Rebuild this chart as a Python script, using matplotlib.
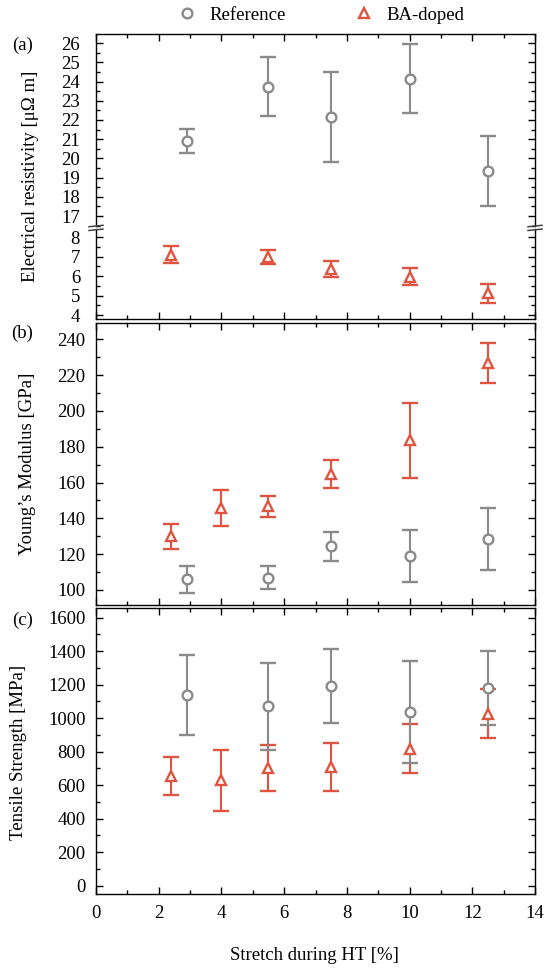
import matplotlib
matplotlib.use("Agg")
import matplotlib.pyplot as plt
from matplotlib.lines import Line2D
from matplotlib.ticker import MultipleLocator

plt.rcParams['font.family'] = ['Liberation Serif', 'DejaVu Serif']

# Data
x_ref = [2.9, 5.5, 7.5, 10.0, 12.5]
x_ba_a = [2.4, 5.5, 7.5, 10.0, 12.5]
x_ba = [2.4, 4.0, 5.5, 7.5, 10.0, 12.5]

# (a) electrical resistivity [uOhm m]: value, lower, upper
res_ref = [20.9, 23.73, 22.15, 24.15, 19.33]
res_ref_lo = [20.29, 22.18, 19.82, 22.35, 17.51]
res_ref_hi = [21.51, 25.28, 24.49, 25.95, 21.16]
res_ba = [7.11, 6.97, 6.37, 5.98, 5.12]
res_ba_lo = [6.69, 6.60, 5.95, 5.52, 4.64]
res_ba_hi = [7.53, 7.34, 6.79, 6.43, 5.59]

# (b) Young's modulus [GPa]
ym_ref = [106.0, 106.9, 124.3, 119.2, 128.4]
ym_ref_lo = [98.5, 100.5, 116.2, 104.7, 111.2]
ym_ref_hi = [113.6, 113.2, 132.5, 133.6, 145.6]
ym_ba = [129.9, 145.7, 146.7, 164.8, 183.6, 226.7]
ym_ba_lo = [122.9, 135.7, 140.8, 156.8, 162.7, 215.6]
ym_ba_hi = [136.9, 155.7, 152.7, 172.8, 204.6, 237.8]

# (c) tensile strength [MPa]
ts_ref = [1138, 1070, 1192, 1037, 1180]
ts_ref_lo = [898, 811, 970, 733, 960]
ts_ref_hi = [1379, 1330, 1413, 1342, 1399]
ts_ba = [655, 628, 703, 708, 819, 1028]
ts_ba_lo = [541, 445, 565, 568, 674, 879]
ts_ba_hi = [769, 811, 841, 849, 964, 1177]

GRAY = '#8a8a8a'
RED = '#e0543f'
W, H = 550, 971
FS = 13.5


def yerr(val, lo, hi):
    return [[v - l for v, l in zip(val, lo)], [h - v for v, h in zip(val, hi)]]


def draw(ax, x, val, lo, hi, color, marker, ms):
    ax.errorbar(x, val, yerr=yerr(val, lo, hi), fmt=marker, color=color,
                mfc='white', mec=color, ms=ms, mew=1.7, elinewidth=1.5,
                capsize=5.7, capthick=1.5, zorder=3)


def style(ax, ymaj, ymin, ypad, xlabels=False):
    ax.set_xlim(0, 14)
    ax.xaxis.set_major_locator(MultipleLocator(2))
    ax.xaxis.set_minor_locator(MultipleLocator(1))
    ax.yaxis.set_major_locator(MultipleLocator(ymaj))
    ax.yaxis.set_minor_locator(MultipleLocator(ymin))
    ax.tick_params(which='both', direction='in', top=True, right=True,
                   width=1.0, labelsize=FS)
    ax.tick_params(axis='y', pad=ypad)
    ax.tick_params(axis='x', pad=8)
    ax.tick_params(which='major', length=5.3)
    ax.tick_params(which='minor', length=2.8)
    if not xlabels:
        ax.tick_params(axis='x', labelbottom=False)
    for s in ax.spines.values():
        s.set_linewidth(1.0)


def fy(py):
    return 1 - py / H


fig = plt.figure(figsize=(5.5, 9.71), dpi=100)
x0, x1 = 96, 535
left, width = x0 / W, (x1 - x0) / W

# (a) broken axis
ax_up = fig.add_axes([left, fy(226), width, fy(33.7) - fy(226)])
ax_lo = fig.add_axes([left, fy(319.5), width, fy(229.5) - fy(319.5)])
draw(ax_up, x_ref, res_ref, res_ref_lo, res_ref_hi, GRAY, 'o', 7)
draw(ax_lo, x_ba_a, res_ba, res_ba_lo, res_ba_hi, RED, '^', 7.5)
ax_up.set_ylim(16.48, 26.49)
ax_lo.set_ylim(3.77, 8.4)
style(ax_up, 1, 0.5, 11.5)
style(ax_lo, 1, 0.5, 11.5)
ax_up.spines['bottom'].set_visible(False)
ax_lo.spines['top'].set_visible(False)
ax_up.tick_params(axis='x', which='both', bottom=False)
ax_lo.tick_params(axis='x', which='both', top=False)

# break marks
for px in (x0, x1):
    for py in (226.0, 229.8):
        fig.add_artist(Line2D([(px - 7) / W, (px + 7) / W],
                              [fy(py + 0.7), fy(py - 0.7)],
                              color='#444444', lw=1.1))

# (b)
ax_b = fig.add_axes([left, fy(605), width, fy(322.6) - fy(605)])
draw(ax_b, x_ba, ym_ba, ym_ba_lo, ym_ba_hi, RED, '^', 7.5)
draw(ax_b, x_ref, ym_ref, ym_ref_lo, ym_ref_hi, GRAY, 'o', 7)
ax_b.set_ylim(91.6, 249.3)
style(ax_b, 20, 10, 7.5)

# (c)
ax_c = fig.add_axes([left, fy(894), width, fy(608.2) - fy(894)])
draw(ax_c, x_ba, ts_ba, ts_ba_lo, ts_ba_hi, RED, '^', 7.5)
draw(ax_c, x_ref, ts_ref, ts_ref_lo, ts_ref_hi, GRAY, 'o', 7)
ax_c.set_ylim(-50, 1657)
style(ax_c, 200, 100, 7.5, xlabels=True)

# labels
fig.text(31 / W, fy(176), 'Electrical resistivity [μΩ m]', rotation=90,
         ha='center', va='center', fontsize=FS)
fig.text(27.5 / W, fy(464), "Young’s Modulus [GPa]", rotation=90,
         ha='center', va='center', fontsize=FS)
fig.text(18.5 / W, fy(752), 'Tensile Strength [MPa]', rotation=90,
         ha='center', va='center', fontsize=FS)
fig.text(314 / W, fy(955), 'Stretch during HT [%]', ha='center', va='center',
         fontsize=FS)
for lab, py in (('(a)', 45), ('(b)', 333), ('(c)', 620)):
    fig.text(22.5 / W, fy(py), lab, ha='center', va='center', fontsize=FS)

# legend
handles = [Line2D([], [], ls='none', marker='o', ms=7, mfc='white', mec=GRAY, mew=1.7),
           Line2D([], [], ls='none', marker='^', ms=7.5, mfc='white', mec=RED, mew=1.7)]
fig.legend(handles, ['Reference', 'BA-doped'], loc='center',
           bbox_to_anchor=(321 / W, fy(15)), ncol=2, frameon=False,
           fontsize=FS, handlelength=1.0, handletextpad=0.7, columnspacing=3.7)

fig.savefig('out.png', dpi=100)
